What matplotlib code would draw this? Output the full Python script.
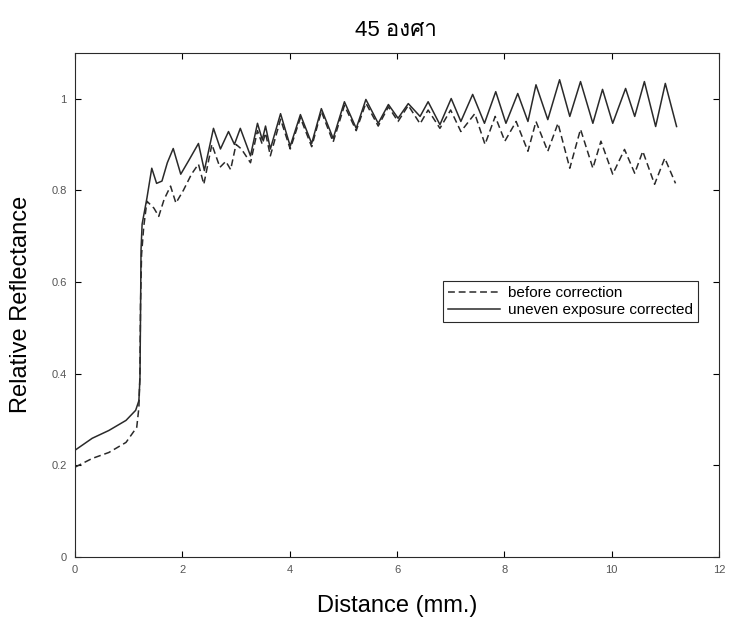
"""Relative reflectance along the sample at 45 degrees, before / after exposure correction."""
import matplotlib

matplotlib.use("Agg")
import matplotlib.pyplot as plt
from matplotlib import font_manager
from matplotlib.ft2font import FT2Font

# uneven exposure corrected (solid)
corr_x = [0.00, 0.32, 0.63, 0.95, 1.13, 1.19, 1.21, 1.22, 1.23, 1.25, 1.34, 1.43,
          1.52, 1.62, 1.72, 1.83, 1.97, 2.12, 2.30, 2.41, 2.58, 2.71, 2.86, 2.97,
          3.08, 3.27, 3.40, 3.49, 3.55, 3.64, 3.83, 4.01, 4.20, 4.41, 4.59, 4.81,
          5.02, 5.24, 5.42, 5.65, 5.84, 6.02, 6.21, 6.43, 6.58, 6.80, 7.01, 7.19,
          7.41, 7.63, 7.84, 8.03, 8.25, 8.44, 8.59, 8.81, 9.03, 9.22, 9.42, 9.65,
          9.83, 10.02, 10.26, 10.43, 10.61, 10.82, 11.00, 11.21]
corr_y = [0.233, 0.259, 0.276, 0.298, 0.320, 0.341, 0.390, 0.520, 0.670, 0.726, 0.783, 0.848,
          0.815, 0.820, 0.860, 0.891, 0.835, 0.865, 0.902, 0.843, 0.935, 0.890, 0.928, 0.900,
          0.935, 0.875, 0.946, 0.910, 0.940, 0.890, 0.967, 0.896, 0.965, 0.902, 0.978, 0.913,
          0.993, 0.935, 0.998, 0.946, 0.987, 0.957, 0.989, 0.961, 0.993, 0.943, 1.000, 0.950,
          1.009, 0.946, 1.015, 0.946, 1.011, 0.950, 1.030, 0.954, 1.041, 0.961, 1.037, 0.946,
          1.020, 0.946, 1.022, 0.961, 1.037, 0.939, 1.033, 0.939]

# before correction (dashed)
raw_x = [0.00, 0.32, 0.63, 0.95, 1.15, 1.19, 1.21, 1.22, 1.24, 1.28, 1.34, 1.47,
         1.56, 1.66, 1.78, 1.88, 2.02, 2.17, 2.30, 2.40, 2.55, 2.70, 2.81, 2.90,
         3.00, 3.10, 3.27, 3.40, 3.49, 3.55, 3.64, 3.83, 4.01, 4.20, 4.41, 4.59,
         4.81, 5.02, 5.24, 5.42, 5.65, 5.84, 6.02, 6.21, 6.43, 6.58, 6.80, 7.00,
         7.19, 7.45, 7.64, 7.83, 8.01, 8.22, 8.44, 8.59, 8.81, 9.00, 9.22, 9.42,
         9.65, 9.80, 10.02, 10.24, 10.43, 10.58, 10.80, 10.99, 11.19]
raw_y = [0.196, 0.215, 0.228, 0.250, 0.283, 0.326, 0.400, 0.550, 0.660, 0.720, 0.776, 0.761,
         0.743, 0.780, 0.809, 0.772, 0.800, 0.835, 0.857, 0.813, 0.900, 0.850, 0.863, 0.845,
         0.900, 0.890, 0.860, 0.930, 0.900, 0.925, 0.875, 0.955, 0.890, 0.958, 0.895, 0.972,
         0.905, 0.985, 0.930, 0.990, 0.940, 0.982, 0.950, 0.985, 0.945, 0.975, 0.935, 0.975,
         0.928, 0.967, 0.900, 0.961, 0.907, 0.950, 0.885, 0.950, 0.885, 0.946, 0.848, 0.933,
         0.848, 0.907, 0.835, 0.889, 0.837, 0.885, 0.813, 0.870, 0.815]

x_ticks = [0, 2, 4, 6, 8, 10, 12]
y_ticks = [0, 0.2, 0.4, 0.6, 0.8, 1.0]
y_tick_labels = ["0", "0.2", "0.4", "0.6", "0.8", "1"]

TITLE = "45 องศา"
INK = "#2a2a2a"


def thai_family():
    # first installed font that actually carries Thai glyphs
    for f in font_manager.fontManager.ttflist:
        try:
            if FT2Font(f.fname).get_char_index(ord("อ")):
                return f.name
        except Exception:
            continue
    return "DejaVu Sans"


def main():
    plt.rcParams["font.family"] = ["Liberation Sans", "DejaVu Sans"]

    fig = plt.figure(figsize=(7.32, 6.17), dpi=100)
    ax = fig.add_axes([0.1025, 0.0972, 0.8797, 0.8174])

    ax.plot(raw_x, raw_y, color=INK, lw=1.1, dashes=(4.5, 2.5), label="before correction")
    ax.plot(corr_x, corr_y, color=INK, lw=1.1, label="uneven exposure corrected")

    ax.set_xlim(0, 12)
    ax.set_ylim(0, 1.1)
    ax.set_xticks(x_ticks)
    ax.set_yticks(y_ticks)
    ax.set_yticklabels(y_tick_labels)
    ax.tick_params(direction="in", length=4, width=0.8, top=True, right=True,
                   labelsize=8, labelcolor="#555555", pad=6)
    for s in ax.spines.values():
        s.set_linewidth(0.8)
        s.set_color(INK)

    ax.set_xlabel("Distance (mm.)", fontsize=17, labelpad=14)
    ax.set_ylabel("Relative Reflectance", fontsize=17, labelpad=14)
    fig.text(0.541, 0.951, TITLE, ha="center", va="center", fontsize=16,
             family=["Liberation Sans", thai_family()])

    leg = ax.legend(loc="upper left", bbox_to_anchor=(0.571, 0.548), fontsize=11,
                    fancybox=False, framealpha=1, edgecolor=INK, handlelength=3.4,
                    handletextpad=0.5, borderpad=0.35, labelspacing=0.2,
                    borderaxespad=0)
    leg.get_frame().set_linewidth(0.8)

    fig.savefig("out.png", dpi=100)


if __name__ == "__main__":
    main()
